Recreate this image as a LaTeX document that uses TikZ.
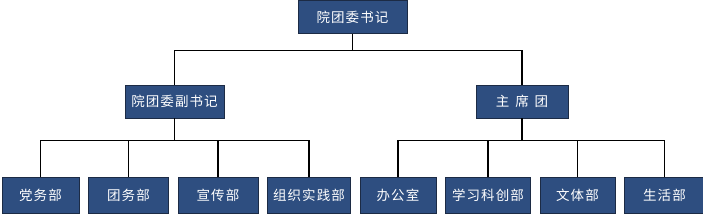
\documentclass[tikz,border=0pt]{standalone}
\usepackage{fontspec}
\newfontfamily\cjk[LetterSpace=8]{Noto Sans CJK SC}
\usetikzlibrary{positioning}
\usepackage{xcolor}
\definecolor{navy}{HTML}{2E4E80}
\definecolor{rim}{HTML}{1C2B45}
\tikzset{
  post/.style={draw=rim,line width=0.8pt,fill=navy,text=white,font=\cjk\fontsize{13.5}{15}\selectfont,minimum height=33pt,inner sep=2pt},
  dept/.style={post,minimum height=36pt},
  link/.style={draw=black,line width=1.1pt}
}

\begin{document}
\begin{tikzpicture}[x=1pt,y=-1pt,node distance=8.7pt]
    \useasboundingbox (0,0) rectangle (703,223);
    \node[post,minimum width=109pt] (sec) at (352.5,17) {院团委书记};
    \node[post,minimum width=99pt] (vice) at (174.5,101.5) {院团委副书记};
    \node[post,minimum width=92pt] (pres) at (522,101.5) {主\hspace{6pt}席\hspace{6pt}团};
    \node[dept,minimum width=77pt] (d1) at (40.5,195) {党务部};
    \node[dept,minimum width=80pt,right=of d1] (d2) {团务部};
    \node[dept,minimum width=80pt,right=of d2] (d3) {宣传部};
    \node[dept,minimum width=83pt,right=of d3] (d4) {组织实践部};
    \node[dept,minimum width=76pt,right=of d4] (d5) {办公室};
    \node[dept,minimum width=85pt,right=of d5] (d6) {学习科创部};
    \node[dept,minimum width=75pt,right=of d6] (d7) {文体部};
    \node[dept,minimum width=80pt,right=of d7] (d8) {生活部};
    % elbow connectors
    \draw[link] (sec.south) -- ++(0,17) coordinate (topbar);
    \draw[link] (topbar) -| (vice.north);
    \draw[link] (topbar) -| (pres.north);
    \draw[link] (vice.south) -- ++(0,22) coordinate (leftbar);
    \draw[link] (pres.south) -- ++(0,22) coordinate (rightbar);
    \foreach \d in {d1,d2,d3,d4}
      \draw[link] (leftbar) -| (\d.north);
    \foreach \d in {d5,d6,d7,d8}
      \draw[link] (rightbar) -| (\d.north);
  \end{tikzpicture}
\end{document}
